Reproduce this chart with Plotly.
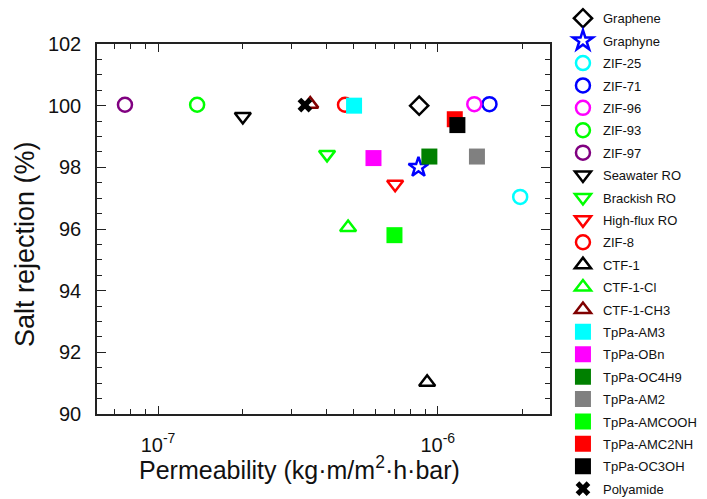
import plotly.graph_objects as go

names = ["Graphene", "Graphyne", "ZIF-25", "ZIF-71", "ZIF-96", "ZIF-93", "ZIF-97",
         "Seawater RO", "Brackish RO", "High-flux RO", "ZIF-8", "CTF-1", "CTF-1-Cl",
         "CTF-1-CH3", "TpPa-AM3", "TpPa-OBn", "TpPa-OC4H9", "TpPa-AM2", "TpPa-AMCOOH",
         "TpPa-AMC2NH", "TpPa-OC3OH", "Polyamide"]
permeability = [8.58e-7, 8.53e-7, 1.97e-6, 1.53e-6, 1.35e-6, 1.38e-7, 7.62e-8,
                 2.01e-7, 4.02e-7, 7.04e-7, 4.66e-7, 9.16e-7, 4.78e-7,
                 3.5e-7, 5.02e-7, 5.89e-7, 9.33e-7, 1.38e-6, 7.0e-7,
                 1.15e-6, 1.175e-6, 3.35e-7]
rejection = [100.0, 98.0, 97.04, 100.05, 100.05, 100.03, 100.03,
             99.65, 98.42, 97.45, 100.03, 91.03, 96.05,
             100.05, 100.0, 98.3, 98.35, 98.35, 95.8,
             99.56, 99.37, 100.02]
symbols = ["diamond-open", "star-open", "circle-open", "circle-open", "circle-open", "circle-open", "circle-open",
           "triangle-down-open", "triangle-down-open", "triangle-down-open", "circle-open", "triangle-up-open",
           "triangle-up-open", "triangle-up-open", "square", "square", "square", "square", "square",
           "square", "square", "x"]
colors = ["#000000", "#0000FF", "#00FFFF", "#0000FF", "#FF00FF", "#00FF00", "#800080",
          "#000000", "#00FF00", "#FF0000", "#FF0000", "#000000", "#00FF00",
          "#800000", "#00FFFF", "#FF00FF", "#008000", "#808080", "#00FF00",
          "#FF0000", "#000000", "#000000"]
sizes = [14, 15, 14, 14, 14, 14, 14, 14, 14, 14, 14, 14, 14, 14, 16, 16, 16, 16, 16, 16, 16, 13]

x_tickvals = [1e-7, 1e-6]
x_ticktext = ["10<sup>-7</sup>", "10<sup>-6</sup>"]
x_minor = [m * 10 ** e for e in (-8, -7, -6) for m in range(2, 10)]
x_title = "Permeability (kg·m/m<sup>2</sup>·h·bar)"
y_title = "Salt rejection (%)"

fig = go.Figure()
for i, n in enumerate(names):
    filled = not symbols[i].endswith("open")
    fig.add_trace(go.Scatter(
        x=[permeability[i]], y=[rejection[i]], mode="markers", name=n,
        legendgroup=n,
        marker=dict(symbol=symbols[i], size=sizes[i], color=colors[i],
                    line=dict(width=0 if filled else 2.5, color=colors[i]))))

axis_common = dict(showline=True, linecolor="#222222", linewidth=1.5, mirror="ticks",
                   ticks="inside", tickcolor="#222222", tickwidth=1.2, showgrid=False,
                   zeroline=False, tickfont=dict(family="Liberation Sans, Arial", size=20, color="#111"))

fig.update_xaxes(type="log", range=[-7.218, -5.599], tickvals=x_tickvals, ticktext=x_ticktext,
                 ticklen=8, ticklabelstandoff=12,
                 minor=dict(tickvals=x_minor, ticks="inside", ticklen=5, tickcolor="#222222", tickwidth=1.2, showgrid=False),
                 **axis_common)
fig.update_yaxes(range=[90, 102], dtick=2, ticklen=9, ticklabelstandoff=10,
                 minor=dict(dtick=0.5, ticks="inside", ticklen=5, tickcolor="#222222", tickwidth=1.2, showgrid=False),
                 **axis_common)

fig.add_annotation(text=x_title, xref="paper", yref="paper", x=0.448, y=-0.1465,
                   xanchor="center", yanchor="middle", showarrow=False,
                   font=dict(family="Liberation Sans, Arial", size=25, color="#111"))
fig.add_annotation(text=y_title, xref="paper", yref="paper", x=-0.159, y=0.4595,
                   xanchor="center", yanchor="middle", showarrow=False, textangle=-90,
                   font=dict(family="Liberation Sans, Arial", size=27, color="#111"))

fig.update_layout(width=707, height=499, margin=dict(l=97, r=157, t=44, b=85, autoexpand=False),
                  plot_bgcolor="white", paper_bgcolor="white",
                  legend=dict(x=1.0286, y=1.11, xanchor="left", yanchor="top", maxheight=520,
                              font=dict(family="Liberation Sans, Arial", size=13, color="#111"),
                              tracegroupgap=2.5, bgcolor="rgba(0,0,0,0)"),
                  showlegend=True)

fig.write_html("out.html")
